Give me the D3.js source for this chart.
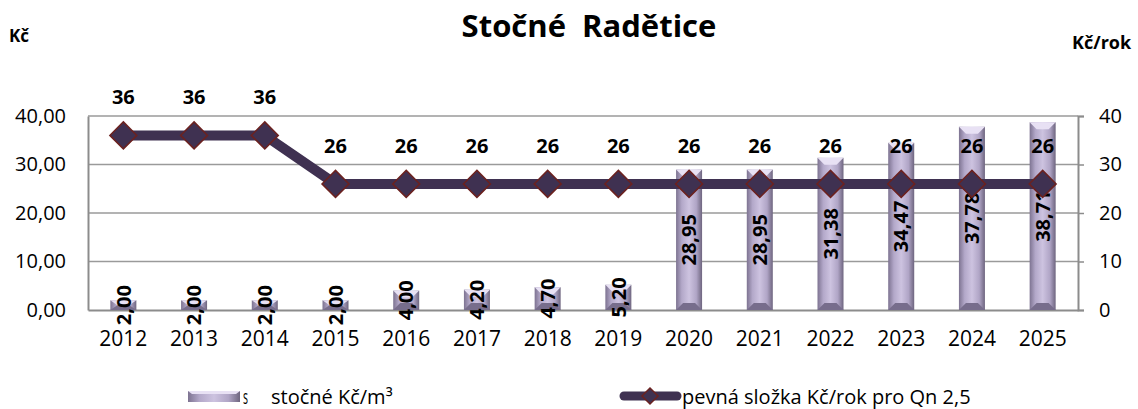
<!DOCTYPE html>
<html>
<head>
<meta charset="utf-8">
<script src="https://cdn.jsdelivr.net/npm/d3@7"></script>
<style>
  body { margin: 0; background: #fff; }
  text { font-family: "Open Sans", "Noto Sans", sans-serif; }
</style>
</head>
<body>
<div id="chart"></div>
<script>
const years = ["2012","2013","2014","2015","2016","2017","2018","2019","2020","2021","2022","2023","2024","2025"];
const stocne = [2.00, 2.00, 2.00, 2.00, 4.00, 4.20, 4.70, 5.20, 28.95, 28.95, 31.38, 34.47, 37.78, 38.71];
const pevna = [36, 36, 36, 26, 26, 26, 26, 26, 26, 26, 26, 26, 26, 26];
const leftTicks = [0, 10, 20, 30, 40];
const rightTicks = [0, 10, 20, 30, 40];

const W = 1138, H = 409;
const margin = {top: 116, right: 60, bottom: 99, left: 88};
const width = W - margin.left - margin.right,
  height = H - margin.top - margin.bottom;

const svg = d3.select("#chart").append("svg")
  .attr("width", W).attr("height", H);

// gradient for the bevelled bars
const defs = svg.append("defs");
const bg = defs.append("linearGradient").attr("id", "barGrad")
  .attr("x1", 0).attr("x2", 1).attr("y1", 0).attr("y2", 0);
bg.append("stop").attr("offset", "0%").attr("stop-color", "#7d7391");
bg.append("stop").attr("offset", "22%").attr("stop-color", "#b3a8c9");
bg.append("stop").attr("offset", "50%").attr("stop-color", "#cdc3e0");
bg.append("stop").attr("offset", "78%").attr("stop-color", "#b0a5c6");
bg.append("stop").attr("offset", "100%").attr("stop-color", "#6e657f");

const g = svg.append("g").attr("transform", `translate(${margin.left},${margin.top})`);

const x = d3.scaleBand().domain(years).range([0, width]).paddingInner(0).paddingOuter(0);
const y = d3.scaleLinear().domain([0, 40]).range([height, 0]);
const y2 = d3.scaleLinear().domain([0, 40]).range([height, 0]);

// gridlines
g.append("g").selectAll("line").data(leftTicks.slice(1)).enter().append("line")
  .attr("x1", 0).attr("x2", width)
  .attr("y1", d => y(d)).attr("y2", d => y(d))
  .attr("stroke", "#9a9a9a").attr("stroke-width", 1.5);

// left axis
const yAxis = g.append("g").call(d3.axisLeft(y).tickValues(leftTicks).tickSize(0)
  .tickFormat(d => d3.format(".2f")(d).replace(".", ",")));
yAxis.select(".domain").attr("stroke", "#8c8c8c").attr("stroke-width", 2);
yAxis.selectAll("text").attr("x", -22).attr("font-size", 20).attr("fill", "#000")
  .style("font-family", "'Open Sans', sans-serif");

// right axis
const yAxisR = g.append("g").attr("transform", `translate(${width},0)`)
  .call(d3.axisRight(y2).tickValues(rightTicks).tickSize(6).tickFormat(d3.format("d")));
yAxisR.select(".domain").attr("stroke", "#8c8c8c").attr("stroke-width", 2);
yAxisR.selectAll(".tick line").attr("stroke", "#8c8c8c").attr("stroke-width", 1.5);
yAxisR.selectAll("text").attr("x", 21).attr("font-size", 20).attr("fill", "#000");

// bottom axis
const xAxis = g.append("g").attr("transform", `translate(0,${height})`)
  .call(d3.axisBottom(x).tickSize(0));
xAxis.select(".domain").attr("stroke", "#8c8c8c").attr("stroke-width", 2);
xAxis.selectAll("text").attr("y", 21).attr("font-size", 21).attr("fill", "#000");

// bars
const bw = 26, bev = 7;
const bars = g.append("g").selectAll("g.bar").data(years).enter().append("g").attr("class", "bar");
bars.append("rect")
  .attr("x", d => x(d) + x.bandwidth() / 2 - bw / 2)
  .attr("y", (d, i) => y(stocne[i]))
  .attr("width", bw)
  .attr("height", (d, i) => height - y(stocne[i]))
  .attr("fill", "url(#barGrad)");
// top bevel face
bars.append("polygon")
  .attr("points", (d, i) => {
    const cx = x(d) + x.bandwidth() / 2, t = y(stocne[i]);
    const h = Math.min(bev, (height - t) / 2);
    return [[cx - bw / 2, t], [cx + bw / 2, t], [cx + bw / 2 - bev, t + h], [cx - bw / 2 + bev, t + h]].join(" ");
  })
  .attr("fill", "#e8e1f4");
// bottom bevel face
bars.append("polygon")
  .attr("points", (d, i) => {
    const cx = x(d) + x.bandwidth() / 2, t = y(stocne[i]);
    const h = Math.min(bev, (height - t) / 2);
    return [[cx - bw / 2, height], [cx + bw / 2, height], [cx + bw / 2 - bev, height - h], [cx - bw / 2 + bev, height - h]].join(" ");
  })
  .attr("fill", "#776d8c");

// bar value labels (rotated, centred in the bar)
g.append("g").selectAll("text").data(years).enter().append("text")
  .attr("transform", (d, i) => {
    const cx = x(d) + x.bandwidth() / 2;
    const cy = (y(stocne[i]) + height) / 2;
    return `translate(${cx},${cy}) rotate(-90)`;
  })
  .attr("text-anchor", "middle").attr("dy", "0.36em")
  .attr("font-size", 20).attr("font-weight", "bold").attr("fill", "#000")
  .text((d, i) => d3.format(".2f")(stocne[i]).replace(".", ","));

// line
const line = d3.line()
  .x((d, i) => x(years[i]) + x.bandwidth() / 2)
  .y(d => y2(d));
g.append("path").datum(pevna)
  .attr("d", line)
  .attr("fill", "none").attr("stroke", "#3f3151").attr("stroke-width", 10);

// diamond markers
g.append("g").selectAll("path").data(pevna).enter().append("path")
  .attr("transform", (d, i) => `translate(${x(years[i]) + x.bandwidth() / 2},${y2(d)})`)
  .attr("d", "M0,-13.5L13.5,0L0,13.5L-13.5,0Z")
  .attr("fill", "#3f3151").attr("stroke", "#6b2220").attr("stroke-width", 1.5);

// line value labels
g.append("g").selectAll("text").data(pevna).enter().append("text")
  .attr("x", (d, i) => x(years[i]) + x.bandwidth() / 2)
  .attr("y", d => y2(d) - 31)
  .attr("text-anchor", "middle")
  .attr("font-size", 20).attr("font-weight", "bold").attr("fill", "#000")
  .text(d => d);

// titles
svg.append("text").attr("x", 589).attr("y", 37).attr("text-anchor", "middle")
  .attr("font-size", 31).attr("font-weight", "bold")
  .attr("xml:space", "preserve").style("white-space", "pre")
  .text("Stočné  Radětice");
svg.append("text").attr("x", 9).attr("y", 42)
  .attr("font-size", 17).attr("font-weight", "bold").text("Kč");
svg.append("text").attr("x", 1072).attr("y", 49)
  .attr("font-size", 18).attr("font-weight", "bold").text("Kč/rok");

// legend
const leg = svg.append("g");
leg.append("rect").attr("x", 188).attr("y", 391).attr("width", 52).attr("height", 11)
  .attr("fill", "url(#barGrad)");
leg.append("polygon").attr("points", "188,391 240,391 236,394 192,394")
  .attr("fill", "#e8e1f4");
leg.append("text").attr("x", 243).attr("y", 404).attr("font-size", 20).attr("fill", "#000")
  .attr("textLength", 5).attr("lengthAdjust", "spacingAndGlyphs").text("s");
leg.append("text").attr("x", 271).attr("y", 404).attr("font-size", 20).attr("fill", "#000")
  .text("stočné Kč/m³");
leg.append("line").attr("x1", 624).attr("x2", 677).attr("y1", 396).attr("y2", 396)
  .attr("stroke", "#3f3151").attr("stroke-width", 9).attr("stroke-linecap", "round");
leg.append("path").attr("transform", "translate(650,396)")
  .attr("d", "M0,-8L8,0L0,8L-8,0Z")
  .attr("fill", "#3f3151").attr("stroke", "#6b2220").attr("stroke-width", 1.5);
leg.append("text").attr("x", 682).attr("y", 404).attr("font-size", 20).attr("fill", "#000")
  .text("pevná složka Kč/rok pro Qn 2,5");
</script>
</body>
</html>
